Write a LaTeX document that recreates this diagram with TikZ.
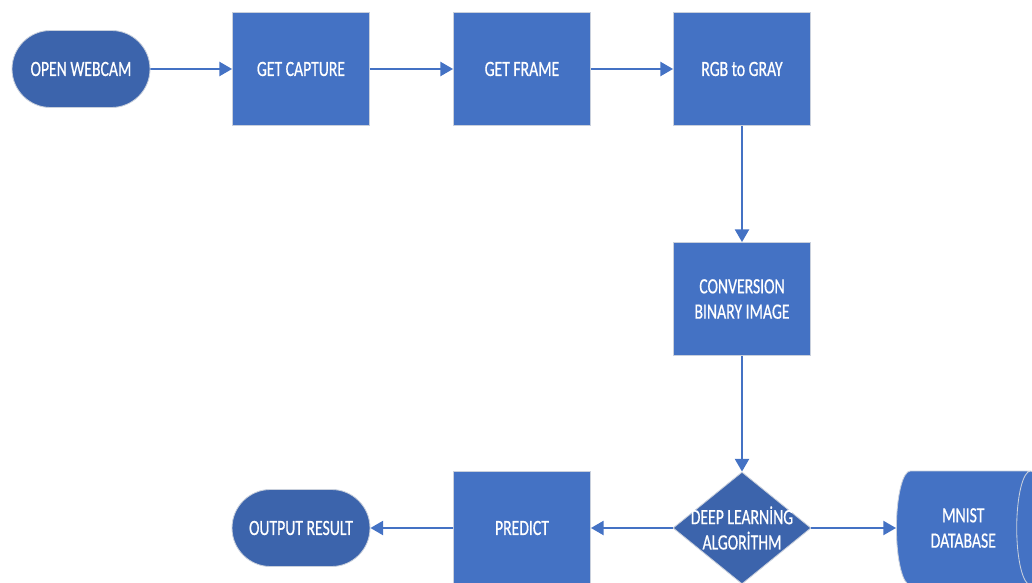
\documentclass[tikz,border=0pt]{standalone}
\usepackage{fontspec}
\newfontfamily\flowfont[FakeStretch=0.72,FakeBold=0.5]{Carlito}
\usetikzlibrary{shapes.geometric,shapes.misc,arrows.meta}
\definecolor{boxblue}{HTML}{4472C4}
\definecolor{darkblue}{HTML}{3C64AC}
\definecolor{edgegray}{HTML}{C9D0DC}
\tikzset{
  lbl/.style={text=white,font=\flowfont\fontsize{15.5}{18}\selectfont,align=center},
  procbox/.style={lbl,rectangle,fill=boxblue,draw=edgegray,line width=.6pt,minimum width=137*0.025cm,minimum height=113*0.025cm,inner sep=0},
  terminal/.style={lbl,rounded rectangle,fill=darkblue,draw=edgegray,line width=.6pt,minimum width=138*0.025cm,minimum height=77*0.025cm,inner sep=0},
  decision/.style={diamond,fill=darkblue,draw=edgegray,line width=.6pt,minimum width=138*0.025cm,minimum height=112*0.025cm,inner sep=0},
  storage/.style={lbl,cylinder,fill=boxblue,draw=edgegray,line width=.6pt,minimum width=114*0.025cm,minimum height=148*0.025cm,aspect=0.7,inner sep=0},
  flow/.style={draw=boxblue,line width=1.4pt,-{Triangle[length=9pt,width=10pt]}}
}
\begin{document}
\begin{tikzpicture}[x=0.025cm,y=-0.025cm]
\useasboundingbox (0,0) rectangle (1032,583);
\clip (0,0) rectangle (1032,583);
\node[terminal](webcam)at(81,69){OPEN WEBCAM};
\node[procbox](capture)at(301,69){GET CAPTURE};
\node[procbox](frame)at(522,69){GET FRAME};
\node[procbox](gray)at(742,69){RGB to GRAY};
\node[procbox](binary)at(742,299){CONVERSION\\BINARY IMAGE};
\node[decision](algo)at(742,528){};
\node[lbl]at(algo){DEEP LEARNİNG\\ALGORİTHM};
\node[procbox](predict)at(522,528){PREDICT};
\node[terminal](result)at(301,528){OUTPUT RESULT};
\node[storage,anchor=west](mnist)at(896,528){MNIST\\DATABASE};
\draw[flow] (webcam)--(capture);
\draw[flow] (capture)--(frame);
\draw[flow] (frame)--(gray);
\draw[flow] (gray)--(binary);
\draw[flow] (binary)--(algo);
\draw[flow] (algo)--(predict);
\draw[flow] (predict)--(result);
\draw[flow] (algo.east)--(mnist.west);
\end{tikzpicture}
\end{document}
